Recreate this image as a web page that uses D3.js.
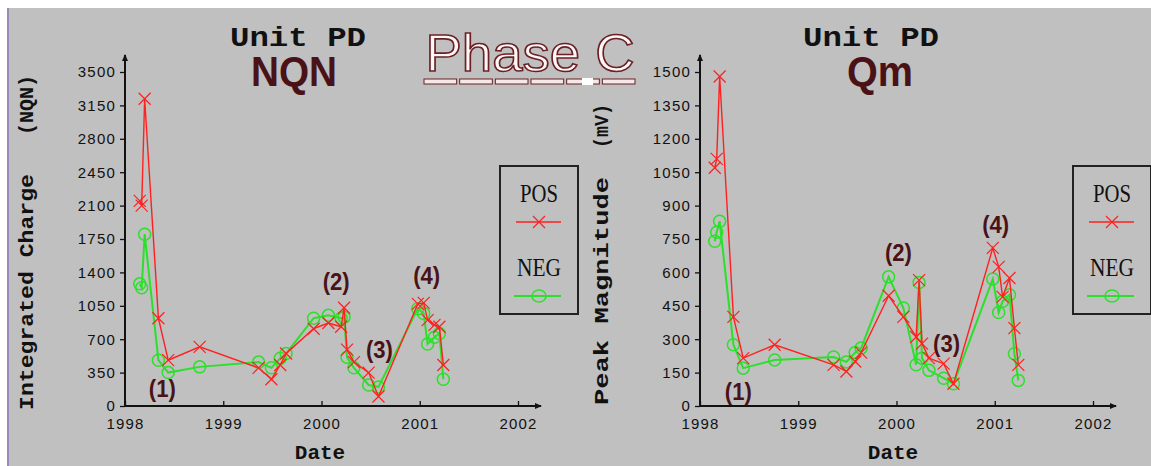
<!DOCTYPE html>
<html><head><meta charset="utf-8">
<script src="https://cdn.jsdelivr.net/npm/d3@7"></script>
<style>
html,body{margin:0;padding:0;background:#c0c0c0;}
svg{display:block;}
</style></head>
<body>
<svg id="chart" width="1151" height="466"></svg>
<script>
// ---------- data ----------
const dates = [1998.15, 1998.17, 1998.20, 1998.34, 1998.44, 1998.76, 1999.36, 1999.49, 1999.58, 1999.64,
  1999.92, 2000.07, 2000.20, 2000.23, 2000.26, 2000.33, 2000.48, 2000.58, 2000.98, 2001.04,
  2001.08, 2001.15, 2001.20, 2001.24];
const nqnPos = [2150, 2100, 3220, 920, 480, 620, 400, 280, 430, 550, 810, 870, 830, 1030, 590, 460, 350, 100, 1070, 1080, 900, 850, 830, 430];
const nqnNeg = [1280, 1240, 1800, 480, 350, 410, 460, 400, 500, 550, 920, 950, 920, 930, 510, 400, 220, 200, 1020, 970, 650, 720, 760, 280];
const qmPos = [1070, 1110, 1480, 400, 215, 275, 185, 155, 200, 240, 495, 400, 310, 565, 280, 215, 190, 100, 710, 625, 490, 575, 350, 185];
const qmNeg = [740, 780, 830, 275, 170, 207, 220, 198, 240, 260, 580, 440, 185, 555, 215, 160, 125, 100, 570, 420, 470, 500, 235, 115];
const yearTicks = [1998, 1999, 2000, 2001, 2002];
const nqnTicks = [0, 350, 700, 1050, 1400, 1750, 2100, 2450, 2800, 3150, 3500];
const qmTicks = [0, 150, 300, 450, 600, 750, 900, 1050, 1200, 1350, 1500];
const annLabels = ["(1)", "(2)", "(3)", "(4)"];
const nqnAnnDates = [1998.38, 2000.15, 2000.59, 2001.07];
const nqnAnnVals = [175, 1295, 588, 1365];
const qmAnnDates = [1998.39, 2000.02, 2000.51, 2001.01];
const qmAnnVals = [63, 686, 279, 815];
const seriesNames = ["POS", "NEG"];

// ---------- styles ----------
const RED = "#ff2020", GREEN = "#2be02b", DARK = "#4a1216";
const svg = d3.select("#chart");

// background
svg.append("rect").attr("width", 1151).attr("height", 466).attr("fill", "#c0c0c0");
svg.append("rect").attr("width", 1151).attr("height", 8).attr("fill", "#ffffff");
svg.append("rect").attr("x", 0).attr("y", 8).attr("width", 7).attr("height", 458).attr("fill", "#ffffff");
svg.append("rect").attr("x", 7).attr("y", 8).attr("width", 2).attr("height", 458).attr("fill", "#9a8ab8");

// Phase C title
const title = svg.append("g");
title.append("text").attr("x", 530).attr("y", 71).attr("text-anchor", "middle")
  .attr("font-family", "Liberation Sans, Arial, sans-serif").attr("font-size", 52)
  .attr("textLength", 209).attr("lengthAdjust", "spacingAndGlyphs")
  .attr("fill", "#fff6f6").attr("stroke", "#6a2024").attr("stroke-width", 1.6)
  .text("Phase C");
const segs = d3.range(6);
const segW = 214 / 6;
title.selectAll("rect.seg").data(segs).join("rect")
  .attr("x", d => 423 + d * segW + 1).attr("y", 79).attr("width", segW - 3).attr("height", 5)
  .attr("fill", "#f6e8e8").attr("stroke", "#6a2024").attr("stroke-width", 1);
title.append("rect").attr("x", 582).attr("y", 78).attr("width", 11).attr("height", 7).attr("fill", "#ffffff");

function drawChart(cfg) {
  const x = d3.scaleLinear().domain([1998, 2002]).range([cfg.x0, cfg.x0 + 393]);
  const y = d3.scaleLinear().domain([0, cfg.ymax]).range([406, 72]);
  const g = svg.append("g");

  // titles
  g.append("text").attr("x", cfg.titleX).attr("y", 46).attr("text-anchor", "middle")
    .attr("font-family", "Liberation Mono, Courier New, monospace").attr("font-weight", "bold")
    .attr("font-size", 28).attr("textLength", 136).attr("lengthAdjust", "spacingAndGlyphs")
    .attr("fill", "#111").text("Unit PD");
  g.append("text").attr("x", cfg.subX).attr("y", 86).attr("text-anchor", "middle")
    .attr("font-family", "Liberation Sans, Arial, sans-serif").attr("font-weight", "bold")
    .attr("font-size", 43).attr("textLength", cfg.subW).attr("lengthAdjust", "spacingAndGlyphs")
    .attr("fill", DARK).text(cfg.sub);

  // y axis label
  g.append("text").attr("transform", `translate(${cfg.labX},${cfg.labBottom}) rotate(-90)`)
    .attr("font-family", "Liberation Mono, Courier New, monospace").attr("font-weight", "bold")
    .attr("font-size", 20).attr("textLength", cfg.labW).attr("lengthAdjust", "spacingAndGlyphs")
    .attr("fill", "#111").text(cfg.ylabel);
  g.append("text").attr("transform", `translate(${cfg.labX},${cfg.unitBottom}) rotate(-90)`)
    .attr("font-family", "Liberation Mono, Courier New, monospace").attr("font-weight", "bold")
    .attr("font-size", 20).attr("textLength", cfg.unitW).attr("lengthAdjust", "spacingAndGlyphs")
    .attr("fill", "#111").text(cfg.unit);

  // axes
  const yAxis = d3.axisLeft(y).tickValues(cfg.ticks).tickSize(5).tickPadding(4).tickFormat(d3.format("d"));
  const ya = g.append("g").attr("transform", `translate(${cfg.x0},0)`).call(yAxis);
  ya.select(".domain").remove();
  ya.selectAll("line").attr("stroke", "#111").attr("stroke-width", 1.3);
  ya.selectAll("text").attr("font-family", "Liberation Sans, Arial, sans-serif").attr("font-size", 15)
    .attr("letter-spacing", 1.2).attr("fill", "#111");

  const xAxis = d3.axisBottom(x).tickValues(yearTicks).tickSizeInner(-5).tickSizeOuter(0).tickPadding(12).tickFormat(d3.format("d"));
  const xa = g.append("g").attr("transform", `translate(0,406)`).call(xAxis);
  xa.select(".domain").remove();
  xa.selectAll("line").attr("stroke", "#111").attr("stroke-width", 1.3);
  xa.selectAll("text").attr("font-family", "Liberation Sans, Arial, sans-serif").attr("font-size", 15)
    .attr("letter-spacing", 1.2).attr("fill", "#111");

  // axis lines with arrows
  const yTop = y(cfg.ymax) - 17, xEnd = x(2002) + 23;
  g.append("line").attr("x1", x(1998)).attr("x2", x(1998)).attr("y1", y(0)).attr("y2", yTop)
    .attr("stroke", "#111").attr("stroke-width", 2);
  g.append("path").attr("d", `M${x(1998) - 3},${yTop + 6}L${x(1998)},${yTop - 1}L${x(1998) + 3},${yTop + 6}Z`).attr("fill", "#111");
  g.append("line").attr("x1", x(1998)).attr("x2", xEnd).attr("y1", y(0)).attr("y2", y(0))
    .attr("stroke", "#111").attr("stroke-width", 2);
  g.append("path").attr("d", `M${xEnd - 6},${y(0) - 3}L${xEnd + 1},${y(0)}L${xEnd - 6},${y(0) + 3}Z`).attr("fill", "#111");

  g.append("text").attr("x", cfg.dateX).attr("y", 459).attr("text-anchor", "middle")
    .attr("font-family", "Liberation Mono, Courier New, monospace").attr("font-weight", "bold")
    .attr("font-size", 21).attr("fill", "#111").text("Date");

  const line = d3.line().x(d => x(d[0])).y(d => y(d[1]));
  const neg = dates.map((d, i) => [d, cfg.neg[i]]);
  const pos = dates.map((d, i) => [d, cfg.pos[i]]);

  // NEG series (green)
  g.append("path").datum(neg).attr("d", line).attr("fill", "none").attr("stroke", GREEN).attr("stroke-width", 2);
  g.selectAll("circle.neg").data(neg).join("circle").attr("cx", d => x(d[0])).attr("cy", d => y(d[1]))
    .attr("r", 6).attr("fill", "none").attr("stroke", GREEN).attr("stroke-width", 1.5);

  // POS series (red)
  g.append("path").datum(pos).attr("d", line).attr("fill", "none").attr("stroke", RED).attr("stroke-width", 1.4);
  g.selectAll("path.pos").data(pos).join("path")
    .attr("d", d => { const cx = x(d[0]), cy = y(d[1]), s = 6;
      return `M${cx - s},${cy - s}L${cx + s},${cy + s}M${cx - s},${cy + s}L${cx + s},${cy - s}`; })
    .attr("stroke", RED).attr("stroke-width", 1.2).attr("fill", "none");

  // annotations
  g.selectAll("text.ann").data(annLabels).join("text")
    .attr("x", (d, i) => x(cfg.annD[i])).attr("y", (d, i) => y(cfg.annV[i]))
    .attr("text-anchor", "middle").attr("dominant-baseline", "central")
    .attr("font-family", "Liberation Sans, Arial, sans-serif").attr("font-weight", "bold")
    .attr("font-size", 23).attr("textLength", 27).attr("lengthAdjust", "spacingAndGlyphs")
    .attr("fill", DARK).text(d => d);

  // legend
  const L = g.append("g");
  L.append("rect").attr("x", cfg.legX).attr("y", 166).attr("width", 78).attr("height", 148)
    .attr("fill", "none").attr("stroke", "#222").attr("stroke-width", 2);
  const cx = cfg.legX + 39;
  L.selectAll("text.leg").data(seriesNames).join("text")
    .attr("x", cx).attr("y", (d, i) => 202 + i * 74).attr("text-anchor", "middle")
    .attr("font-family", "Liberation Serif, Times New Roman, serif").attr("font-size", 26)
    .attr("textLength", (d, i) => i === 0 ? 38 : 44).attr("lengthAdjust", "spacingAndGlyphs")
    .attr("fill", "#111").text(d => d);
  L.append("line").attr("x1", cx - 23).attr("x2", cx + 22).attr("y1", 222).attr("y2", 222).attr("stroke", RED).attr("stroke-width", 1.5);
  L.append("path").attr("d", `M${cx - 6},${216}L${cx + 6},${228}M${cx - 6},${228}L${cx + 6},${216}`).attr("stroke", RED).attr("stroke-width", 1.2);
  L.append("line").attr("x1", cx - 25).attr("x2", cx + 22).attr("y1", 296).attr("y2", 296).attr("stroke", GREEN).attr("stroke-width", 2);
  L.append("ellipse").attr("cx", cx).attr("cy", 296).attr("rx", 7).attr("ry", 6).attr("fill", "none").attr("stroke", GREEN).attr("stroke-width", 1.5);
}

drawChart({x0: 125, ymax: 3500, ticks: nqnTicks, pos: nqnPos, neg: nqnNeg, titleX: 298, subX: 294, subW: 86, sub: "NQN",
  labX: 33, labBottom: 410, labW: 236, ylabel: "Integrated Charge", unitBottom: 135, unitW: 60, unit: "(NQN)",
  dateX: 320, annD: nqnAnnDates, annV: nqnAnnVals, legX: 500});
drawChart({x0: 700, ymax: 1500, ticks: qmTicks, pos: qmPos, neg: qmNeg, titleX: 871, subX: 880, subW: 66, sub: "Qm",
  labX: 608, labBottom: 405, labW: 228, ylabel: "Peak Magnitude", unitBottom: 148, unitW: 44, unit: "(mV)",
  dateX: 893, annD: qmAnnDates, annV: qmAnnVals, legX: 1073});
</script>
</body></html>
